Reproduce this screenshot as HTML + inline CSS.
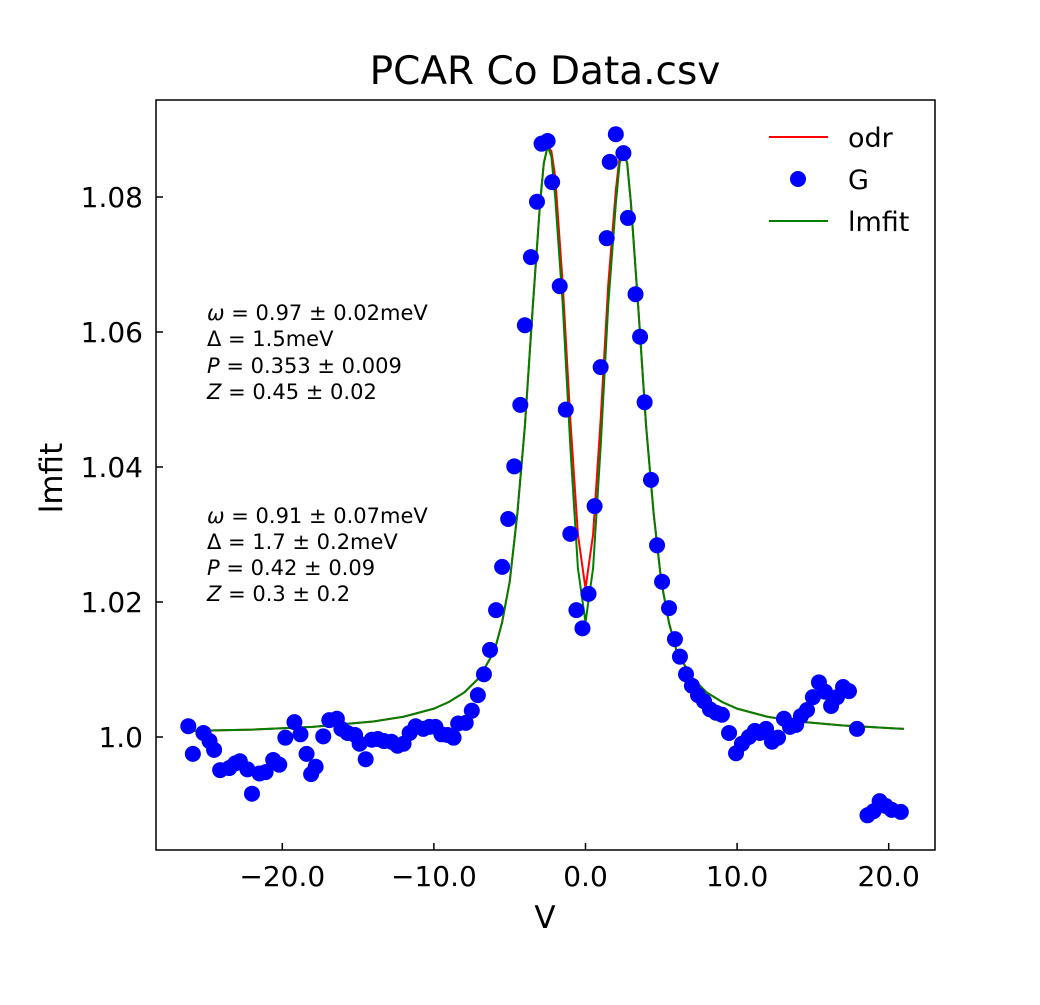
<!DOCTYPE html>
<html><head><meta charset="utf-8"><style>
body{margin:0;background:#fff;}
svg text{font-family:"DejaVu Sans","Liberation Sans",sans-serif;}
</style></head><body>
<svg id="chart" width="1040" height="1000" xmlns="http://www.w3.org/2000/svg">
<rect width="1040" height="1000" fill="#fff"/>
<text x="545" y="84" font-size="39" text-anchor="middle">PCAR Co Data.csv</text>
<g id="fits"></g>
<g id="pts"></g>
<rect x="156" y="100" width="779" height="750" fill="none" stroke="#000" stroke-width="1.5"/>
<g id="axes"></g>
<text x="545" y="928" font-size="31" text-anchor="middle">V</text>
<text transform="translate(62,478) rotate(-90)" font-size="31" text-anchor="middle">lmfit</text>
<g font-size="21">
<text x="207" y="320"><tspan font-style="italic">ω</tspan> = 0.97 ± 0.02meV</text>
<text x="207" y="346">Δ = 1.5meV</text>
<text x="207" y="373"><tspan font-style="italic">P</tspan> = 0.353 ± 0.009</text>
<text x="207" y="399"><tspan font-style="italic">Z</tspan> = 0.45 ± 0.02</text>
</g>
<g font-size="21">
<text x="207" y="523"><tspan font-style="italic">ω</tspan> = 0.91 ± 0.07meV</text>
<text x="207" y="549">Δ = 1.7 ± 0.2meV</text>
<text x="207" y="575"><tspan font-style="italic">P</tspan> = 0.42 ± 0.09</text>
<text x="207" y="601"><tspan font-style="italic">Z</tspan> = 0.3 ± 0.2</text>
</g>
<g font-size="27">
<line x1="769" y1="137" x2="828" y2="137" stroke="#f00" stroke-width="2"/>
<text x="848" y="147">odr</text>
<circle cx="798" cy="179" r="8" fill="#00f"/>
<text x="848" y="189">G</text>
<line x1="769" y1="221" x2="828" y2="221" stroke="#008000" stroke-width="2"/>
<text x="848" y="231">lmfit</text>
</g>
</svg>
<script>
const gX=[-26.2,-25.9,-25.2,-24.8,-24.5,-24.1,-23.5,-23.1,-22.8,-22.3,-22,-21.5,-21.1,-20.6,-20.2,-19.8,-19.2,-18.8,-18.4,-18.1,-17.8,-17.3,-16.9,-16.4,-16.1,-15.7,-15.2,-14.9,-14.5,-14.1,-13.7,-13.3,-12.8,-12.4,-12,-11.6,-11.2,-10.7,-10.3,-9.9,-9.5,-9.1,-8.7,-8.4,-7.9,-7.5,-7.1,-6.7,-6.3,-5.9,-5.5,-5.1,-4.7,-4.3,-4,-3.6,-3.2,-2.9,-2.5,-2.2,-1.7,-1.3,-1,-0.6,-0.2,0.2,0.6,1,1.4,1.6,2,2.5,2.8,3.3,3.6,3.9,4.32,4.72,5.05,5.51,5.9,6.23,6.63,7.02,7.42,7.82,8.21,8.61,9.0,9.47,9.93,10.32,10.78,11.17,11.51,11.91,12.3,12.7,13.09,13.49,13.89,14.21,14.61,15.0,15.4,15.8,16.2,16.59,16.99,17.38,17.91,18.6,19,19.4,19.8,20.2,20.8];
const gY=[1.0016,0.9975,1.0006,0.9994,0.9981,0.9951,0.9954,0.9961,0.9964,0.9952,0.9916,0.9946,0.9948,0.9966,0.9959,0.9999,1.0022,1.0004,0.9975,0.9945,0.9956,1.0001,1.0025,1.0027,1.0012,1.0006,1.0003,0.999,0.9967,0.9996,0.9997,0.9994,0.9993,0.9987,0.999,1.0006,1.0016,1.0012,1.0015,1.0015,1.0004,1.0003,0.9999,1.002,1.0021,1.0039,1.0062,1.0093,1.0129,1.0188,1.0252,1.0323,1.0401,1.0492,1.0610,1.0711,1.0793,1.0879,1.0883,1.0822,1.0668,1.0485,1.0301,1.0188,1.0161,1.0212,1.0342,1.0548,1.0739,1.0852,1.0893,1.0865,1.0769,1.0656,1.0593,1.0496,1.0381,1.0284,1.023,1.0191,1.0145,1.0119,1.0093,1.0076,1.0062,1.0053,1.0041,1.0036,1.0033,1.0006,0.9976,0.999,1.0,1.0009,1.0006,1.0012,0.9993,0.9999,1.0027,1.0015,1.0018,1.0031,1.004,1.0059,1.0081,1.0067,1.0046,1.0059,1.0074,1.0068,1.0012,0.9884,0.989,0.9905,0.9898,0.9892,0.9889];
const fitX=[-26,-22,-18,-14,-12,-10,-9,-8,-7,-6,-5.5,-5,-4.5,-4,-3.5,-3,-2.75,-2.5,-2.25,-2,-1.5,-1,-0.5,0,0.5,1,1.5,2,2.25,2.5,2.75,3,3.5,4,4.5,5,5.5,6,7,8,9,10,12,14,17,21];
const lmY=[1.0009,1.0011,1.0015,1.0023,1.003,1.0042,1.0052,1.0066,1.0088,1.0128,1.017,1.023,1.033,1.046,1.063,1.079,1.085,1.0875,1.086,1.080,1.064,1.043,1.025,1.017,1.025,1.043,1.064,1.079,1.085,1.0868,1.085,1.079,1.063,1.046,1.033,1.023,1.017,1.0128,1.0088,1.0066,1.0052,1.0042,1.003,1.0023,1.0017,1.0012];
const odrY=[1.0009,1.0011,1.0015,1.0023,1.003,1.0042,1.0052,1.0066,1.0088,1.0128,1.017,1.023,1.033,1.046,1.063,1.079,1.085,1.0875,1.0868,1.083,1.067,1.047,1.030,1.022,1.030,1.047,1.067,1.081,1.086,1.0868,1.085,1.079,1.063,1.046,1.033,1.023,1.017,1.0128,1.0088,1.0066,1.0052,1.0042,1.003,1.0023,1.0017,1.0012];
const xTicks=[-20,-10,0,10,20];
const xLabels=["−20.0","−10.0","0.0","10.0","20.0"];
const yTicks=[1.0,1.02,1.04,1.06,1.08];
const yLabels=["1.0","1.02","1.04","1.06","1.08"];
const sx=v=>585.5+v*15.16;
const sy=v=>737-(v-1)*6750;
const NS="http://www.w3.org/2000/svg";
function mk(t,a,p){const e=document.createElementNS(NS,t);for(const k in a)e.setAttribute(k,a[k]);p.appendChild(e);return e;}
const fits=document.getElementById('fits');
let l1=mk('polyline',{points:fitX.map((x,i)=>sx(x)+','+sy(odrY[i])).join(' '),fill:'none',stroke:'#f00','stroke-width':2},fits);


let l2=mk('polyline',{points:fitX.map((x,i)=>sx(x)+','+sy(lmY[i])).join(' '),fill:'none',stroke:'#008000','stroke-width':2},fits);


const pts=document.getElementById('pts');
gX.forEach((x,i)=>{const c=mk('circle',{cx:sx(x),cy:sy(gY[i]),r:8,fill:'#00f'},pts);

});
const ax=document.getElementById('axes');
xTicks.forEach((v,i)=>{mk('line',{x1:sx(v),x2:sx(v),y1:850,y2:843,stroke:'#000','stroke-width':1.5},ax);
const t=mk('text',{x:sx(v),y:886,'font-size':28,'text-anchor':'middle'},ax);t.textContent=xLabels[i];

});
yTicks.forEach((v,i)=>{mk('line',{x1:156,x2:163,y1:sy(v),y2:sy(v),stroke:'#000','stroke-width':1.5},ax);
const t=mk('text',{x:143,y:sy(v)+10,'font-size':28,'text-anchor':'end'},ax);t.textContent=yLabels[i];

});
</script>
</body></html>
